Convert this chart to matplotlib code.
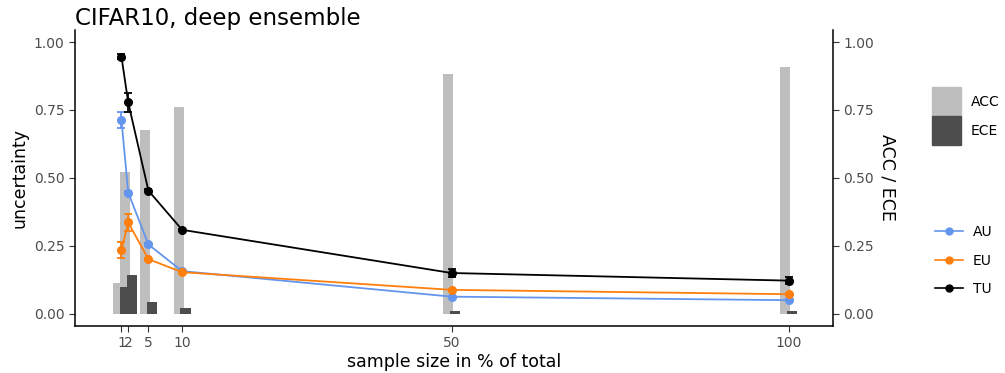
import matplotlib.pyplot as plt
from matplotlib.patches import Patch
from matplotlib.lines import Line2D

# data
sizes = [1, 2, 5, 10, 50, 100]
acc = [0.113, 0.52, 0.676, 0.761, 0.881, 0.909]
ece = [0.100, 0.143, 0.042, 0.021, 0.012, 0.012]

au = [0.713, 0.446, 0.255, 0.157, 0.063, 0.050]
au_err = [0.030, 0.006, 0.004, 0.003, 0.003, 0.003]
eu = [0.234, 0.336, 0.201, 0.153, 0.088, 0.072]
eu_err = [0.030, 0.030, 0.004, 0.003, 0.003, 0.003]
tu = [0.946, 0.778, 0.453, 0.309, 0.150, 0.122]
tu_err = [0.010, 0.036, 0.006, 0.004, 0.015, 0.012]

tick_labels = ['1', '2', '5', '10', '50', '100']

fig = plt.figure(figsize=(10.05, 3.73), dpi=100)
ax = fig.add_axes([0.0746, 0.126, 0.7543, 0.794])
ax2 = ax.twinx()

# bars on the secondary axis (same scale), drawn behind the lines
ax2.bar([s - 0.5 for s in sizes], acc, width=1.5, color='#BEBEBE', zorder=1)
ax2.bar([s + 0.5 for s in sizes], ece, width=1.5, color='#4D4D4D', zorder=2)
ax.set_zorder(ax2.get_zorder() + 1)
ax.patch.set_visible(False)

cols = {'AU': '#6495ED', 'EU': '#FF7F0E', 'TU': 'black'}
for name, vals, err in [('AU', au, au_err), ('EU', eu, eu_err), ('TU', tu, tu_err)]:
    ax.errorbar(sizes, vals, yerr=err, color=cols[name], marker='o', markersize=5.5,
                lw=1.3, capsize=3, elinewidth=1.3, capthick=1.3)

for a in (ax, ax2):
    a.set_xlim(-5.9, 106.6)
    a.set_ylim(-0.045, 1.045)
    a.set_yticks([0, 0.25, 0.5, 0.75, 1.0])
    a.set_yticklabels(['0.00', '0.25', '0.50', '0.75', '1.00'])
    a.tick_params(colors='#333333', labelcolor='#4D4D4D', labelsize=10, length=4, width=0.8)
    a.spines['top'].set_visible(False)

ax.spines['right'].set_visible(False)
ax2.spines['left'].set_visible(False)
for sp in ['left', 'bottom']:
    ax.spines[sp].set_linewidth(1.1)
ax2.spines['right'].set_linewidth(1.1)
ax2.spines['bottom'].set_visible(False)

ax.set_xticks(sizes)
ax.set_xticklabels(tick_labels)
ax.set_xlabel('sample size in % of total', fontsize=12.5, labelpad=2)
ax.set_ylabel('uncertainty', fontsize=12.5, labelpad=4)
ax2.set_ylabel('ACC / ECE', fontsize=12.5, rotation=-90, labelpad=16)
ax.set_title('CIFAR10, deep ensemble', fontsize=16.5, loc='left', pad=3)

bar_handles = [Patch(color='#BEBEBE', label='ACC'), Patch(color='#4D4D4D', label='ECE')]
leg1 = fig.legend(handles=bar_handles, loc='upper left', bbox_to_anchor=(0.915, 0.80),
                  frameon=False, fontsize=10, handlelength=2.1, handleheight=2.8,
                  handletextpad=0.7, labelspacing=0.05)

line_handles = [Line2D([0], [0], color=cols[n], marker='o', markersize=5, lw=1.2, label=n)
                for n in ['AU', 'EU', 'TU']]
leg2 = fig.legend(handles=line_handles, loc='upper left', bbox_to_anchor=(0.918, 0.43),
                  frameon=False, fontsize=10, handlelength=2.0,
                  handletextpad=0.7, labelspacing=1.05)

fig.savefig('out.png', dpi=100)
